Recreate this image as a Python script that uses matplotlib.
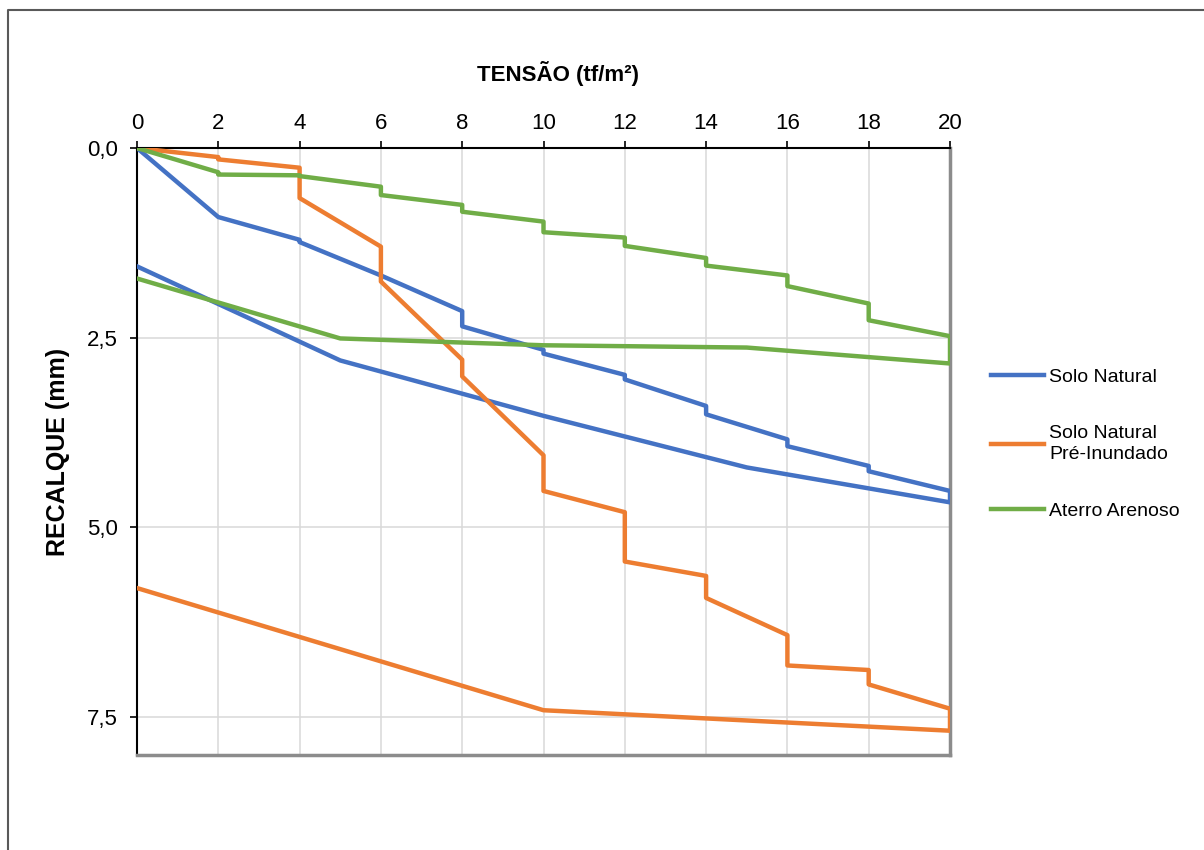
import matplotlib
matplotlib.use("Agg")
import matplotlib.pyplot as plt
from matplotlib.lines import Line2D
from matplotlib.ticker import FuncFormatter

plt.rcParams['font.family'] = ['Liberation Sans', 'DejaVu Sans']

# tensao (tf/m2) x recalque (mm), carga e descarga
tensao_natural = [0, 2, 4, 4, 6, 8, 8, 10, 10, 12, 12, 14, 14, 16, 16, 18, 18, 20, 20, 15, 10, 5, 0]
recalque_natural = [0, 0.91, 1.21, 1.24, 1.68, 2.15, 2.35, 2.66, 2.71, 2.99, 3.05, 3.40, 3.51,
                    3.84, 3.93, 4.19, 4.26, 4.52, 4.67, 4.21, 3.53, 2.80, 1.56]

tensao_inundado = [0, 2, 2, 4, 4, 6, 6, 8, 8, 10, 10, 12, 12, 14, 14, 16, 16, 18, 18, 20, 20, 10, 0]
recalque_inundado = [0, 0.12, 0.15, 0.26, 0.66, 1.30, 1.76, 2.79, 3.01, 4.05, 4.52, 4.80, 5.45,
                     5.64, 5.93, 6.42, 6.82, 6.88, 7.07, 7.39, 7.68, 7.41, 5.80]

tensao_aterro = [0, 2, 2, 4, 4, 6, 6, 8, 8, 10, 10, 12, 12, 14, 14, 16, 16, 18, 18, 20, 20, 15, 10, 5, 0]
recalque_aterro = [0, 0.32, 0.35, 0.36, 0.37, 0.51, 0.62, 0.75, 0.84, 0.97, 1.11, 1.18, 1.29,
                   1.45, 1.55, 1.68, 1.82, 2.05, 2.27, 2.48, 2.84, 2.63, 2.60, 2.51, 1.72]

x_ticks = [0, 2, 4, 6, 8, 10, 12, 14, 16, 18, 20]
y_ticks = [0, 2.5, 5.0, 7.5]

fig = plt.figure(figsize=(12.04, 8.5), dpi=100)
ax = fig.add_axes([137 / 1204, 1 - 755 / 850, (950 - 137) / 1204, (755 - 148) / 850])

lw = 3.2
ax.plot(tensao_natural, recalque_natural, color="#4472C4", lw=lw, label="Solo Natural", zorder=3)
ax.plot(tensao_inundado, recalque_inundado, color="#ED7D31", lw=lw,
        label="Solo Natural\nPré-Inundado", zorder=3)
ax.plot(tensao_aterro, recalque_aterro, color="#70AD47", lw=lw, label="Aterro Arenoso", zorder=3)

ax.set_xlim(0, 20)
ax.set_ylim(8, 0)
ax.set_xticks(x_ticks)
ax.set_yticks(y_ticks)
ax.yaxis.set_major_formatter(FuncFormatter(lambda v, p: f"{v:.1f}".replace(".", ",")))

ax.xaxis.tick_top()
ax.xaxis.set_label_position("top")
ax.tick_params(axis="x", top=True, bottom=False, direction="out", length=5, width=1.2,
               labelsize=16, pad=5)
ax.tick_params(axis="y", direction="out", length=5, width=1.2, labelsize=16, pad=9)

ax.grid(True, color="#d9d9d9", lw=1.1, zorder=0)
ax.set_axisbelow(True)

for s in ("left", "top"):
    ax.spines[s].set_color("black")
    ax.spines[s].set_linewidth(1.5)
for s in ("right", "bottom"):
    ax.spines[s].set_color("#8c8c8c")
    ax.spines[s].set_linewidth(2.5)

ax.set_xlabel("TENSÃO (tf/m²)", fontsize=16, fontweight="bold", labelpad=23)
ax.xaxis.label.set_x(0.518)
ax.set_ylabel("RECALQUE (mm)", fontsize=18, fontweight="bold", labelpad=12)

leg = ax.legend(loc="center left", bbox_to_anchor=(981 / 1204, 1 - 444 / 850),
                bbox_transform=fig.transFigure, frameon=False, fontsize=14,
                handlelength=2.75, handletextpad=0.25, labelspacing=2.0, borderpad=0)
for t in leg.get_texts():
    t.set_linespacing(1.35)

# moldura externa
fig.add_artist(Line2D([8 / 1204, 8 / 1204, 1.0], [0.0, 1 - 10 / 850, 1 - 10 / 850],
                      transform=fig.transFigure, color="#595959", lw=1.5))

fig.savefig("out.png", dpi=100)
